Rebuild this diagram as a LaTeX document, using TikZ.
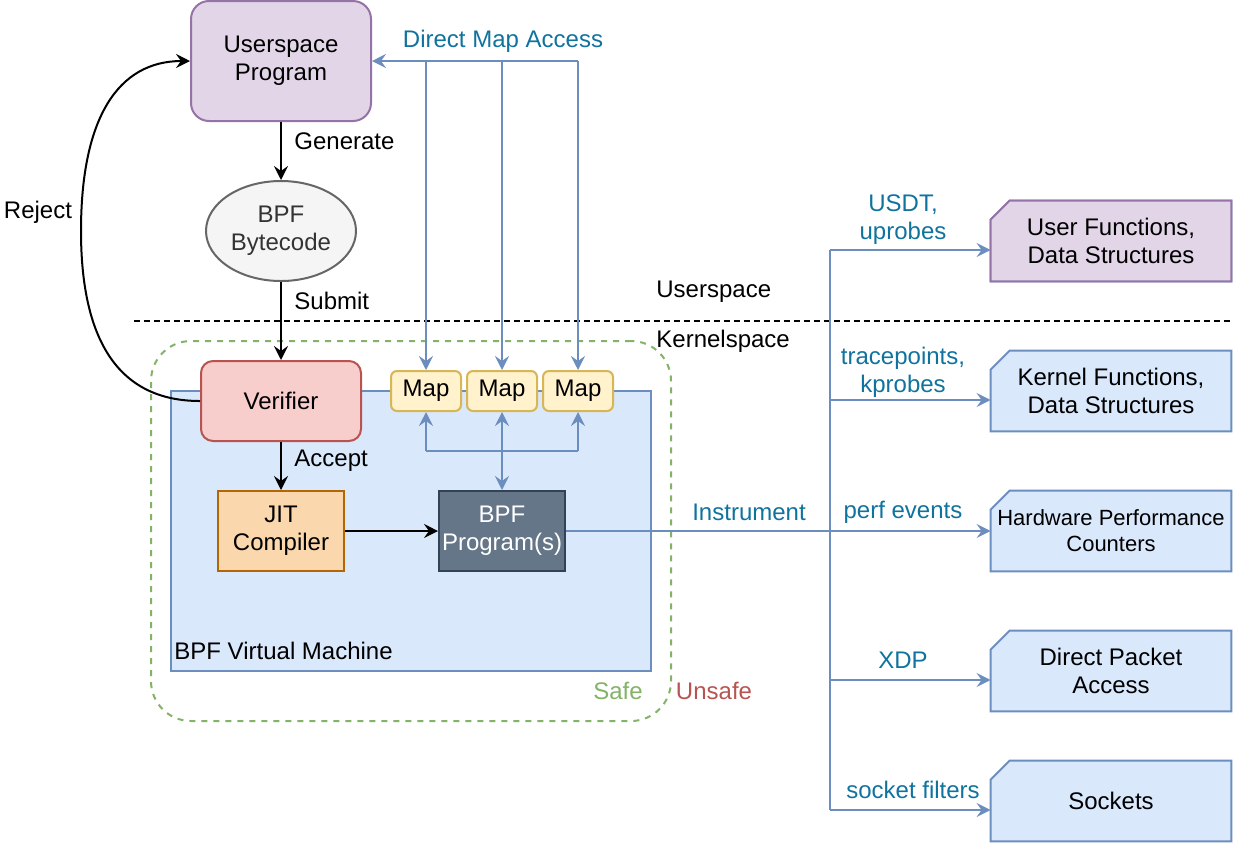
\documentclass[tikz,border=0pt]{standalone}
\usepackage{fontspec}
\setmainfont{Liberation Sans}
\usetikzlibrary{positioning,shapes.geometric,arrows.meta}
\pgfdeclarelayer{bg}
\pgfsetlayers{bg,main}
\definecolor{upfill}{HTML}{E1D5E7}
\definecolor{upline}{HTML}{9673A6}
\definecolor{vmfill}{HTML}{DAE8FC}
\definecolor{vmline}{HTML}{6C8EBF}
\definecolor{verfill}{HTML}{F8CECC}
\definecolor{verline}{HTML}{B85450}
\definecolor{jitfill}{HTML}{FAD7AC}
\definecolor{jitline}{HTML}{B46504}
\definecolor{progfill}{HTML}{647687}
\definecolor{progline}{HTML}{314354}
\definecolor{mapfill}{HTML}{FFF2CC}
\definecolor{mapline}{HTML}{D6B656}
\definecolor{bcfill}{HTML}{F5F5F5}
\definecolor{bcline}{HTML}{666666}
\definecolor{bctext}{HTML}{333333}
\definecolor{safeline}{HTML}{82B366}
\definecolor{bluetext}{HTML}{10739E}
\tikzset{
	txt/.style={font=\fontsize{12}{14}\selectfont,align=center,inner sep=0pt},
	box/.style={txt,draw,line width=1pt},
	card/.style={txt,minimum width=120pt,minimum height=40pt},
	cardline/.style={line width=1pt,draw=vmline,fill=vmfill},
	mapbox/.style={box,rounded corners=3pt,draw=mapline,fill=mapfill,minimum width=35pt,minimum height=20pt},
	blk/.style={line width=1pt,-{Stealth[length=7pt,width=7pt,inset=2.5pt]}},
	blu/.style={line width=1pt,draw=vmline,-{Stealth[length=7pt,width=7pt,inset=2.5pt]}},
	bluline/.style={line width=1pt,draw=vmline},
	lbl/.style={txt,text=bluetext}
}
\begin{document}
\begin{tikzpicture}[x=0.5pt,y=-0.5pt]
	\useasboundingbox (0,0) rectangle (1234,842);
	\node[box,draw=safeline,dash pattern=on 3pt off 3pt,rounded corners=20pt,minimum width=260pt,minimum height=190pt](safe) at (411,531) {};
	\node[box,draw=vmline,fill=vmfill,minimum width=240pt,minimum height=140pt](vm) at (411,531) {};
	\node[txt,anchor=west](vmlabel) at (174,651) {BPF Virtual Machine};
	\node[txt,text=safeline](safelabel) at (618,691) {Safe};
	\node[txt,text=verline](unsafelabel) at (714,691) {Unsafe};
	\node[box,rounded corners=9pt,draw=upline,fill=upfill,minimum width=90pt,minimum height=60pt](up) at (281,61) {Userspace\\Program};
	\node[box,ellipse,draw=bcline,fill=bcfill,text=bctext,minimum width=75pt,minimum height=50pt](bc) at (281,231) {BPF\\Bytecode};
	\node[box,rounded corners=6pt,draw=verline,fill=verfill,minimum width=80pt,minimum height=40pt](ver) at (281,401) {Verifier};
	\node[box,draw=jitline,fill=jitfill,minimum width=63pt,minimum height=40pt](jit) at (281,531) {JIT\\Compiler};
	\node[box,draw=progline,fill=progfill,text=white,minimum width=63pt,minimum height=40pt](prog) at (502,531) {BPF\\Program(s)};
	\node[mapbox](m1) at (426,391) {Map};
	\node[mapbox](m2) at (502,391) {Map};
	\node[mapbox](m3) at (578,391) {Map};
	\node[txt,anchor=west](gen) at (294,141) {Generate};
	\node[txt,anchor=west](sub) at (294,301) {Submit};
	\node[txt,anchor=west](acc) at (294,461) {Accept};
	\node[txt](rej) at (38,212) {Reject};
	\node[txt,anchor=west](us) at (656,292) {Userspace};
	\node[txt,anchor=west](ks) at (656,341) {Kernelspace};
	\node[lbl](dma) at (503,41) {Direct Map Access};
	\node[lbl](instr) at (749,512) {Instrument};
	\node[card](ufn) at (1111,241) {User Functions,\\Data Structures};
	\node[card](kfn) at (1111,391) {Kernel Functions,\\Data Structures};
	\node[card,font=\fontsize{11}{13}\selectfont](hpc) at (1111,531) {Hardware Performance\\Counters};
	\node[card](pkt) at (1111,671) {Direct Packet\\Access};
	\node[card](sock) at (1111,801) {Sockets};
	\begin{pgfonlayer}{bg}
		\foreach \c in {ufn,kfn,hpc,pkt,sock}
			\draw[cardline] ([xshift=9.5pt]\c.north west) -- (\c.north east) -- (\c.south east) -- (\c.south west) -- ([yshift=-9.5pt]\c.north west) -- cycle;
		\draw[cardline,draw=upline,fill=upfill] ([xshift=9.5pt]ufn.north west) -- (ufn.north east) -- (ufn.south east) -- (ufn.south west) -- ([yshift=-9.5pt]ufn.north west) -- cycle;
	\end{pgfonlayer}
	\node[lbl](usdt) at (903,220) {USDT,\\uprobes};
	\node[lbl](tp) at (903,372) {tracepoints,\\kprobes};
	\node[lbl](perf) at (903,512) {perf events};
	\node[lbl](xdp) at (903,660) {XDP};
	\node[lbl](sf) at (913,790) {socket filters};
	\coordinate (ul) at (134,321);
	\coordinate (ur) at (1231,321);
	\coordinate (mj) at (502,451);
	\coordinate (bus) at (830,531);
	\coordinate (rj) at (81,231);
	\coordinate (ufnin) at ([yshift=-4.5pt]ufn.west);
	\coordinate (kfnin) at ([yshift=-4.5pt]kfn.west);
	\coordinate (pktin) at ([yshift=-4.5pt]pkt.west);
	\coordinate (sockin) at ([yshift=-4.5pt]sock.west);
	\draw[line width=1pt,dash pattern=on 3pt off 2pt] (ul) -- (ur);
	\draw[blk] (up) -- (bc);
	\draw[blk] (bc) -- (ver);
	\draw[blk] (ver) -- (jit);
	\draw[blk] (jit) -- (prog);
	\draw[blk] (ver.west) .. controls (121,401) and (81,344) .. (rj) .. controls (81,118) and (118,61) .. (up.west);
	\draw[blu] (m3.north |- up.east) -- (up.east);
	\foreach \m in {m1,m2,m3}
		\draw[blu] (\m.north |- up.east) -- (\m.north);
	\draw[bluline] (m1.south |- mj) -- (m3.south |- mj);
	\foreach \m in {m1,m3}
		\draw[blu] (\m.south |- mj) -- (\m.south);
	\draw[blu,{Stealth[length=7pt,width=7pt,inset=2.5pt]}-{Stealth[length=7pt,width=7pt,inset=2.5pt]}] (m2.south) -- (prog.north);
	\draw[bluline] (prog.east) -- (bus);
	\draw[bluline] (bus |- ufnin) -- (bus |- sockin);
	\foreach \c in {ufnin,kfnin,pktin,sockin}
		\draw[blu] (bus |- \c) -- (\c);
	\draw[blu] (bus) -- (hpc.west);
\end{tikzpicture}
\end{document}
